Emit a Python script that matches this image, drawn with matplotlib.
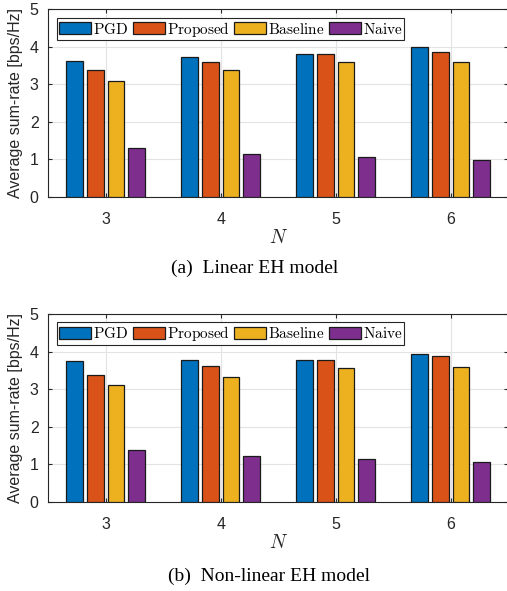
import numpy as np
import matplotlib
matplotlib.use('Agg')
import matplotlib.pyplot as plt

N = [3, 4, 5, 6]
labels = ['PGD', 'Proposed', 'Baseline', 'Naive']

# (a) linear EH model
lin_pgd = [3.61, 3.72, 3.80, 3.99]
lin_prop = [3.38, 3.59, 3.80, 3.85]
lin_base = [3.08, 3.37, 3.60, 3.60]
lin_naive = [1.31, 1.13, 1.05, 0.97]

# (b) non-linear EH model
nl_pgd = [3.75, 3.78, 3.78, 3.93]
nl_prop = [3.38, 3.61, 3.78, 3.87]
nl_base = [3.10, 3.33, 3.55, 3.60]
nl_naive = [1.37, 1.23, 1.15, 1.06]

colors = ['#0072BD', '#D95319', '#EDB120', '#7E2F8E']
plt.rcParams['mathtext.fontset'] = 'cm'

W, H = 507, 591
fig = plt.figure(figsize=(W / 100, H / 100), dpi=100)


def draw(ax, series):
  x = np.array(N, dtype=float)
  offs = [-0.27, -0.09, 0.09, 0.27]
  for s, o, c, lab in zip(series, offs, colors, labels):
    ax.bar(x + o, s, width=0.145, color=c, edgecolor='#1a1a1a', linewidth=0.9,
           label=r'$\mathrm{' + lab + '}$', zorder=3)
  ax.set_xlim(2.5, 6.5)
  ax.set_ylim(0, 5)
  ax.set_xticks(N)
  ax.set_yticks([0, 1, 2, 3, 4, 5])
  ax.grid(True, color='#e3e3e3', linewidth=0.8, zorder=0)
  ax.tick_params(direction='in', length=3, labelsize=11.5, colors='#262626',
                 top=True, right=True)
  ax.tick_params(axis='x', pad=11)
  ax.tick_params(axis='y', pad=7)
  for t in ax.get_xticklabels() + ax.get_yticklabels():
    t.set_family('Liberation Sans')
  for sp in ax.spines.values():
    sp.set_color('#262626')
    sp.set_linewidth(0.8)
  ax.set_ylabel('Average sum-rate [bps/Hz]', fontsize=11.5, color='#262626', labelpad=5,
                family='Liberation Sans')
  ax.set_xlabel('$N$', fontsize=14, color='#262626', labelpad=1)
  leg = ax.legend(loc='upper left', ncol=4, bbox_to_anchor=(0.019, 0.955),
                  prop={'size': 11},
                  handlelength=2.1, handleheight=0.85, handletextpad=0.12, columnspacing=0.3,
                  borderpad=0.12, borderaxespad=0.0, fancybox=False, framealpha=1)
  leg.get_frame().set_edgecolor('#262626')
  leg.get_frame().set_linewidth(0.8)
  leg.set_zorder(5)


ax1 = fig.add_axes([48.3 / W, 1 - 196.7 / H, (508 - 48.3) / W, (196.7 - 9.3) / H])
draw(ax1, [lin_pgd, lin_prop, lin_base, lin_naive])
fig.text(255 / W, 1 - 268 / H, '(a)  Linear EH model', ha='center', va='center',
         family='Liberation Serif', fontsize=14)

ax2 = fig.add_axes([48.3 / W, 1 - 501.7 / H, (508 - 48.3) / W, (501.7 - 314) / H])
draw(ax2, [nl_pgd, nl_prop, nl_base, nl_naive])
fig.text(269 / W, 1 - 576 / H, '(b)  Non-linear EH model', ha='center', va='center',
         family='Liberation Serif', fontsize=14)

fig.savefig('out.png', dpi=100)
